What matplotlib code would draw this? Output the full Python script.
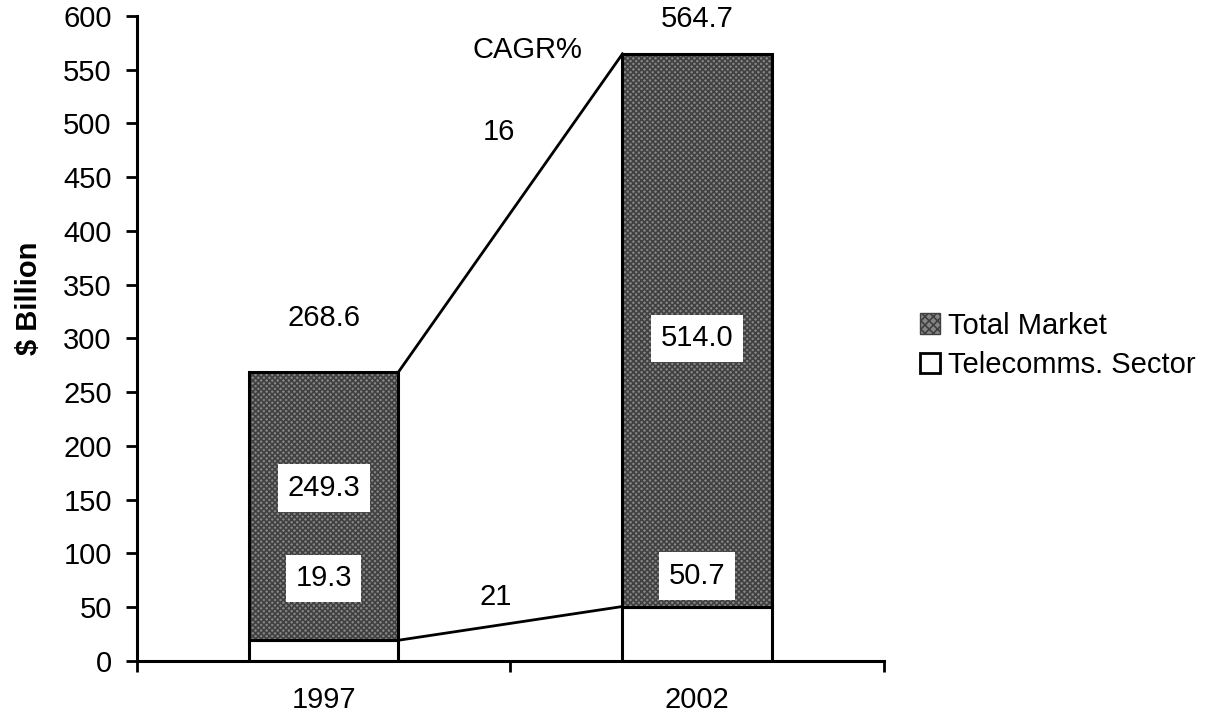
import numpy as np
import matplotlib.pyplot as plt
from matplotlib.patches import Patch

# ============================================================
# DATOS
# ============================================================
years = ["1997", "2002"]
telecom = [19.3, 50.7]
total_market = [268.6, 564.7]
rest_market = [249.3, 514.0]
cagr_total = "16"
cagr_telecom = "21"

plt.rcParams["font.family"] = ["Liberation Sans", "DejaVu Sans"]
plt.rcParams["hatch.linewidth"] = 1.2

fig = plt.figure(figsize=(12.21, 7.24), dpi=100)
ax = fig.add_axes([0.112, 0.087, 0.612, 0.891])

x = np.arange(len(years)) + 0.5
w = 0.4
gris = "#858585"
gris_osc = "#404040"

# segmento inferior (telecom) y superior (resto del mercado)
ax.bar(x, telecom, width=w, color="white", edgecolor="black", linewidth=2.2, zorder=2)
ax.bar(x, rest_market, width=w, bottom=telecom, color=gris,
       edgecolor=gris_osc, hatch="xxxxxx", linewidth=0, zorder=2)
ax.bar(x, rest_market, width=w, bottom=telecom, fill=False,
       edgecolor="black", linewidth=2.2, zorder=3)

# lineas de crecimiento
ax.plot([x[0] + w / 2, x[1] - w / 2], total_market, color="black", lw=2, zorder=3)
ax.plot([x[0] + w / 2, x[1] - w / 2], telecom, color="black", lw=2, zorder=3)

fs = 21
box = dict(facecolor="white", edgecolor="none", pad=7)
for xi, tot in zip(x, total_market):
    ax.text(xi, min(tot + 50, 597), f"{tot:.1f}", ha="center", va="center", fontsize=fs)

ax.text(x[0], 161, f"{rest_market[0]:.1f}", ha="center", va="center", fontsize=fs, bbox=box, zorder=4)
ax.text(x[0], 77, f"{telecom[0]:.1f}", ha="center", va="center", fontsize=fs, bbox=box, zorder=4)
ax.text(x[1], 300, f"{rest_market[1]:.1f}", ha="center", va="center", fontsize=fs, bbox=box, zorder=4)
ax.text(x[1], 79, f"{telecom[1]:.1f}", ha="center", va="center", fontsize=fs, bbox=box, zorder=4)

ax.text(1.045, 568, "CAGR%", ha="center", va="center", fontsize=fs)
ax.text(0.97, 492, cagr_total, ha="center", va="center", fontsize=fs)
ax.text(0.96, 60, cagr_telecom, ha="center", va="center", fontsize=fs)

# ejes
ax.set_xlim(0, 2)
ax.set_ylim(0, 600)
ax.set_yticks(np.arange(0, 601, 50))
ax.set_xticks([0, 1, 2])
ax.set_xticklabels([])
ax.set_xticks(x, minor=True)
ax.set_xticklabels(years, minor=True)
ax.tick_params(axis="x", which="minor", length=0, pad=18, labelsize=fs)
ax.tick_params(axis="x", which="major", length=8, width=2, direction="out")
ax.tick_params(axis="y", length=8, width=2, direction="out", labelsize=fs, pad=10)
for s in ["top", "right"]:
    ax.spines[s].set_visible(False)
for s in ["left", "bottom"]:
    ax.spines[s].set_linewidth(2.2)
ax.set_ylabel("$ Billion", fontsize=fs, fontweight="bold")
ax.yaxis.set_label_coords(-0.125, 0.563)

handles = [
    Patch(facecolor=gris, edgecolor=gris_osc, hatch="xxxx", label="Total Market"),
    Patch(facecolor="white", edgecolor="black", linewidth=2, label="Telecomms. Sector"),
]
fig.legend(handles=handles, loc="center left", bbox_to_anchor=(0.732, 0.523),
           frameon=False, fontsize=fs, handlelength=0.7, handleheight=0.7,
           handletextpad=0.25, labelspacing=0.4)

fig.savefig("out.png", dpi=100, facecolor="white")
